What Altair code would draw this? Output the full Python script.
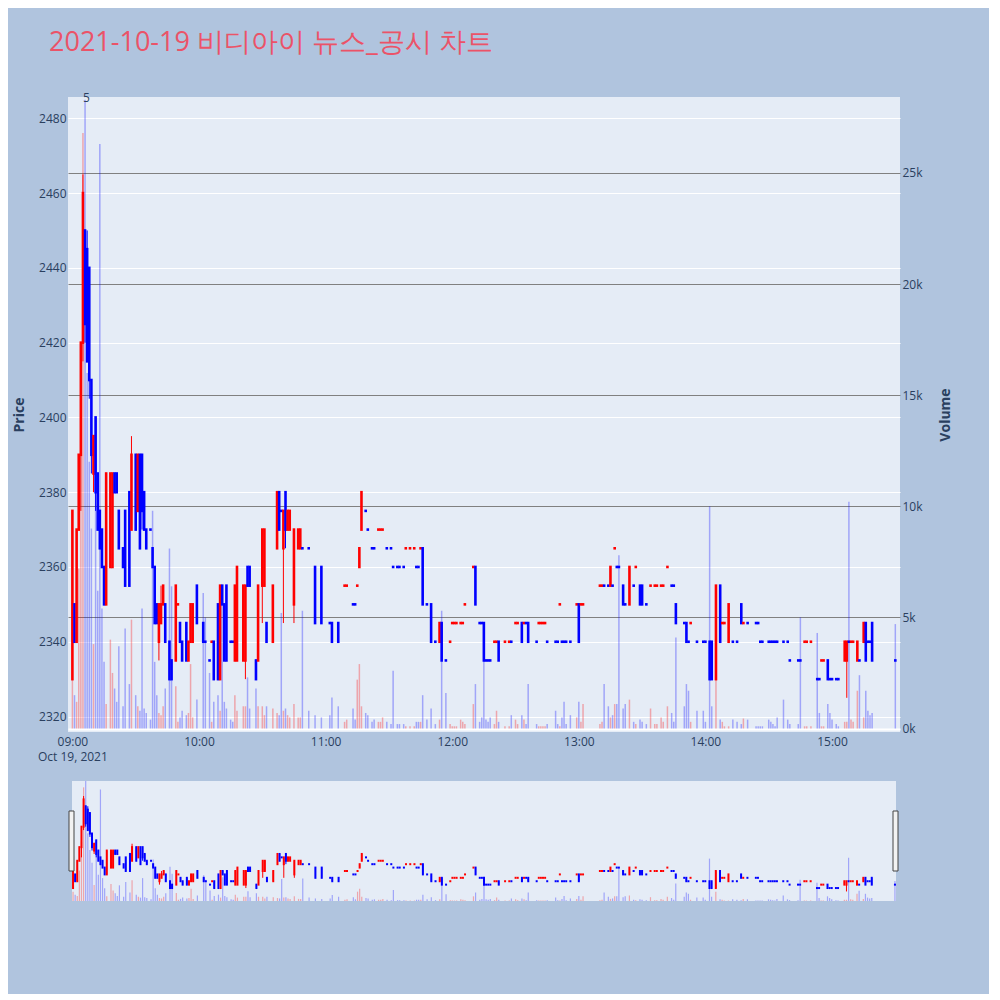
import altair as alt
import pandas as pd

TITLE = "2021-10-19 비디아이 뉴스_공시 차트"

# minutes after 09:00
MINUTE = [
    0, 1, 2, 3, 4, 5, 6, 7, 8, 9,
    10, 11, 12, 13, 14, 15, 16, 18, 19, 20,
    21, 22, 24, 25, 27, 28, 30, 31, 32, 33,
    34, 35, 37, 38, 39, 40, 41, 42, 43, 44,
    46, 47, 49, 50, 51, 52, 54, 55, 56, 57,
    59, 62, 63, 65, 66, 67, 69, 70, 71, 72,
    73, 75, 76, 77, 78, 81, 82, 83, 84, 87,
    88, 90, 91, 92, 95, 97, 98, 99, 100, 101,
    102, 103, 105, 107, 108, 109, 112, 115, 118, 122,
    123, 126, 129, 130, 133, 134, 135, 136, 137, 139,
    140, 142, 143, 145, 146, 147, 149, 151, 152, 154,
    155, 157, 158, 160, 162, 163, 164, 165, 166, 168,
    170, 172, 174, 175, 177, 179, 180, 181, 182, 184,
    185, 186, 190, 191, 193, 194, 195, 196, 197, 198,
    200, 201, 202, 205, 207, 208, 210, 211, 213, 214,
    215, 216, 220, 221, 222, 223, 224, 225, 229, 230,
    231, 232, 233, 234, 236, 239, 240, 241, 242, 250,
    251, 252, 254, 255, 256, 257, 258, 259, 261, 262,
    264, 266, 267, 269, 270, 272, 274, 276, 277, 279,
    280, 282, 284, 285, 286, 290, 291, 292, 293, 296,
    299, 300, 302, 303, 305, 307, 308, 309, 311, 313,
    315, 317, 318, 320, 324, 325, 326, 327, 330, 331,
    332, 333, 334, 337, 339, 340, 344, 345, 347, 348,
    350, 353, 354, 355, 356, 358, 359, 360, 362, 363,
    366, 367, 368, 369, 370, 372, 373, 375, 376, 377,
    378, 379, 390,
]

OPEN = [
    2330, 2350, 2340, 2370, 2390, 2420, 2450, 2445, 2440, 2410,
    2385, 2400, 2385, 2375, 2370, 2360, 2350, 2360, 2360, 2385,
    2385, 2375, 2365, 2375, 2380, 2370, 2390, 2375, 2390, 2390,
    2380, 2370, 2370, 2365, 2360, 2350, 2340, 2345, 2350, 2350,
    2340, 2335, 2335, 2350, 2345, 2340, 2345, 2335, 2340, 2340,
    2355, 2345, 2340, 2335, 2340, 2340, 2350, 2330, 2355, 2350,
    2355, 2340, 2340, 2335, 2335, 2335, 2335, 2360, 2360, 2335,
    2335, 2355, 2355, 2345, 2340, 2365, 2380, 2375, 2365, 2380,
    2370, 2370, 2350, 2365, 2365, 2365, 2365, 2360, 2360, 2345,
    2345, 2345, 2355, 2355, 2350, 2350, 2355, 2360, 2370, 2375,
    2370, 2365, 2365, 2370, 2370, 2370, 2365, 2365, 2360, 2360,
    2360, 2360, 2365, 2365, 2365, 2360, 2360, 2365, 2365, 2350,
    2350, 2340, 2340, 2345, 2335, 2340, 2345, 2345, 2345, 2345,
    2345, 2350, 2360, 2360, 2345, 2345, 2345, 2335, 2335, 2335,
    2340, 2340, 2340, 2340, 2340, 2340, 2345, 2345, 2345, 2345,
    2345, 2345, 2340, 2345, 2345, 2345, 2345, 2340, 2340, 2340,
    2350, 2340, 2340, 2340, 2340, 2350, 2350, 2350, 2350, 2355,
    2355, 2355, 2355, 2355, 2355, 2365, 2360, 2360, 2355, 2350,
    2350, 2355, 2360, 2355, 2355, 2350, 2355, 2355, 2355, 2355,
    2355, 2360, 2355, 2355, 2350, 2345, 2345, 2340, 2345, 2340,
    2340, 2340, 2340, 2340, 2330, 2355, 2345, 2345, 2340, 2340,
    2340, 2350, 2345, 2345, 2345, 2345, 2340, 2340, 2340, 2340,
    2340, 2340, 2340, 2340, 2340, 2335, 2335, 2335, 2340, 2340,
    2340, 2330, 2330, 2335, 2335, 2335, 2330, 2330, 2330, 2330,
    2335, 2335, 2340, 2340, 2340, 2335, 2335, 2340, 2345, 2340,
    2340, 2345, 2335,
]

HIGH = [
    2375, 2350, 2370, 2390, 2420, 2465, 2450, 2450, 2440, 2410,
    2395, 2400, 2385, 2375, 2370, 2360, 2385, 2385, 2385, 2385,
    2385, 2375, 2365, 2375, 2380, 2395, 2390, 2390, 2390, 2390,
    2380, 2370, 2370, 2365, 2360, 2350, 2350, 2355, 2355, 2350,
    2340, 2335, 2355, 2350, 2345, 2340, 2345, 2340, 2350, 2350,
    2355, 2345, 2340, 2335, 2340, 2340, 2350, 2355, 2355, 2350,
    2355, 2340, 2340, 2355, 2360, 2355, 2355, 2360, 2360, 2335,
    2355, 2370, 2370, 2345, 2355, 2380, 2380, 2375, 2375, 2380,
    2375, 2375, 2370, 2370, 2370, 2365, 2365, 2360, 2360, 2345,
    2345, 2345, 2355, 2355, 2350, 2350, 2355, 2365, 2380, 2375,
    2370, 2365, 2365, 2370, 2370, 2370, 2365, 2365, 2360, 2360,
    2360, 2360, 2365, 2365, 2365, 2360, 2360, 2365, 2365, 2350,
    2350, 2340, 2345, 2345, 2335, 2340, 2345, 2345, 2345, 2345,
    2345, 2350, 2360, 2360, 2345, 2345, 2345, 2335, 2335, 2335,
    2340, 2340, 2340, 2340, 2340, 2340, 2345, 2345, 2345, 2345,
    2345, 2345, 2340, 2345, 2345, 2345, 2345, 2340, 2340, 2340,
    2350, 2340, 2340, 2340, 2340, 2350, 2350, 2350, 2350, 2355,
    2355, 2355, 2355, 2360, 2355, 2365, 2360, 2360, 2355, 2350,
    2360, 2355, 2360, 2355, 2355, 2350, 2355, 2355, 2355, 2355,
    2355, 2360, 2355, 2355, 2350, 2345, 2345, 2340, 2345, 2340,
    2340, 2340, 2340, 2340, 2355, 2355, 2345, 2345, 2350, 2340,
    2340, 2350, 2345, 2345, 2345, 2345, 2340, 2340, 2340, 2340,
    2340, 2340, 2340, 2340, 2340, 2335, 2335, 2335, 2340, 2340,
    2340, 2330, 2330, 2335, 2335, 2335, 2330, 2330, 2330, 2330,
    2340, 2340, 2340, 2340, 2340, 2340, 2335, 2345, 2345, 2340,
    2340, 2345, 2335,
]

LOW = [
    2330, 2340, 2340, 2370, 2375, 2415, 2420, 2415, 2405, 2385,
    2380, 2375, 2370, 2365, 2360, 2350, 2350, 2360, 2360, 2380,
    2380, 2365, 2360, 2355, 2355, 2370, 2370, 2375, 2365, 2370,
    2370, 2365, 2370, 2360, 2345, 2345, 2335, 2345, 2350, 2340,
    2330, 2330, 2335, 2350, 2340, 2335, 2335, 2335, 2340, 2340,
    2345, 2340, 2340, 2335, 2340, 2330, 2330, 2330, 2350, 2335,
    2335, 2340, 2340, 2335, 2335, 2335, 2330, 2355, 2355, 2330,
    2335, 2345, 2355, 2340, 2340, 2365, 2370, 2375, 2345, 2365,
    2370, 2370, 2345, 2365, 2365, 2365, 2365, 2345, 2345, 2345,
    2340, 2340, 2355, 2355, 2350, 2350, 2355, 2360, 2370, 2375,
    2370, 2365, 2365, 2370, 2370, 2370, 2365, 2365, 2360, 2360,
    2360, 2360, 2365, 2365, 2365, 2360, 2360, 2365, 2350, 2350,
    2340, 2340, 2340, 2335, 2335, 2340, 2345, 2345, 2345, 2345,
    2345, 2350, 2360, 2350, 2345, 2345, 2335, 2335, 2335, 2335,
    2340, 2340, 2335, 2340, 2340, 2340, 2345, 2345, 2340, 2345,
    2345, 2340, 2340, 2345, 2345, 2345, 2345, 2340, 2340, 2340,
    2350, 2340, 2340, 2340, 2340, 2350, 2340, 2350, 2350, 2355,
    2355, 2355, 2355, 2355, 2355, 2365, 2360, 2360, 2350, 2350,
    2350, 2355, 2360, 2350, 2350, 2350, 2355, 2355, 2355, 2355,
    2355, 2360, 2355, 2355, 2345, 2345, 2340, 2340, 2345, 2340,
    2340, 2340, 2330, 2330, 2330, 2340, 2345, 2345, 2340, 2340,
    2340, 2345, 2345, 2345, 2345, 2345, 2340, 2340, 2340, 2340,
    2340, 2340, 2340, 2340, 2340, 2335, 2335, 2335, 2340, 2340,
    2340, 2330, 2330, 2335, 2335, 2330, 2330, 2330, 2330, 2330,
    2335, 2325, 2340, 2340, 2340, 2335, 2335, 2340, 2335, 2340,
    2340, 2335, 2335,
]

CLOSE = [
    2375, 2340, 2370, 2390, 2420, 2460, 2425, 2415, 2410, 2390,
    2395, 2380, 2370, 2365, 2360, 2350, 2385, 2385, 2385, 2380,
    2380, 2365, 2360, 2355, 2355, 2390, 2370, 2390, 2365, 2375,
    2370, 2365, 2370, 2360, 2345, 2345, 2350, 2350, 2355, 2340,
    2330, 2330, 2355, 2350, 2340, 2335, 2335, 2340, 2350, 2350,
    2345, 2340, 2340, 2335, 2340, 2330, 2330, 2355, 2350, 2335,
    2335, 2340, 2340, 2355, 2360, 2355, 2355, 2355, 2355, 2330,
    2355, 2370, 2370, 2340, 2355, 2380, 2370, 2375, 2375, 2370,
    2375, 2375, 2370, 2370, 2370, 2365, 2365, 2345, 2345, 2345,
    2340, 2340, 2355, 2355, 2350, 2350, 2355, 2365, 2380, 2375,
    2370, 2365, 2365, 2370, 2370, 2370, 2365, 2365, 2360, 2360,
    2360, 2360, 2365, 2365, 2365, 2360, 2360, 2365, 2350, 2350,
    2340, 2340, 2345, 2335, 2335, 2340, 2345, 2345, 2345, 2345,
    2345, 2350, 2360, 2350, 2345, 2345, 2335, 2335, 2335, 2335,
    2340, 2340, 2335, 2340, 2340, 2340, 2345, 2345, 2340, 2345,
    2345, 2340, 2340, 2345, 2345, 2345, 2345, 2340, 2340, 2340,
    2350, 2340, 2340, 2340, 2340, 2350, 2340, 2350, 2350, 2355,
    2355, 2355, 2355, 2360, 2355, 2365, 2360, 2360, 2350, 2350,
    2360, 2355, 2360, 2350, 2350, 2350, 2355, 2355, 2355, 2355,
    2355, 2360, 2355, 2355, 2345, 2345, 2340, 2340, 2345, 2340,
    2340, 2340, 2330, 2330, 2355, 2340, 2345, 2345, 2350, 2340,
    2340, 2345, 2345, 2345, 2345, 2345, 2340, 2340, 2340, 2340,
    2340, 2340, 2340, 2340, 2340, 2335, 2335, 2335, 2340, 2340,
    2340, 2330, 2330, 2335, 2335, 2330, 2330, 2330, 2330, 2330,
    2340, 2340, 2340, 2340, 2340, 2340, 2335, 2345, 2335, 2340,
    2340, 2335, 2335,
]

VOLUME = [
    2200, 1500, 1200, 7200, 14000, 26800, 28300, 16000, 12000, 9000,
    3800, 14000, 6200, 26300, 5400, 3000, 1100, 4000, 2500, 1800,
    1200, 3700, 1000, 4500, 2000, 4900, 1500, 1000, 800, 5400,
    900, 700, 400, 9800, 3000, 1500, 700, 600, 1000, 1800,
    8100, 6400, 1900, 300, 500, 800, 600, 700, 2900, 500,
    1300, 6100, 5000, 2500, 300, 1200, 1500, 800, 5600, 1200,
    900, 400, 300, 1500, 800, 1000, 1000, 2300, 900, 1800,
    1000, 1000, 600, 1000, 900, 700, 600, 5200, 800, 900,
    600, 500, 1100, 500, 500, 5300, 800, 600, 500, 600,
    1400, 1000, 300, 400, 900, 400, 2200, 2900, 1000, 700,
    600, 300, 400, 300, 300, 500, 300, 200, 2600, 200,
    200, 200, 100, 100, 100, 300, 300, 300, 1500, 400,
    900, 200, 400, 5300, 1600, 200, 100, 100, 100, 400,
    300, 200, 1100, 2000, 300, 500, 4700, 400, 300, 500,
    200, 800, 300, 100, 100, 600, 400, 200, 600, 400,
    200, 2000, 200, 100, 100, 100, 100, 200, 800, 200,
    100, 500, 1200, 200, 600, 500, 1200, 300, 1100, 200,
    300, 2000, 1000, 500, 600, 1100, 1100, 7800, 900, 1100,
    1300, 300, 200, 400, 300, 200, 900, 200, 200, 500,
    300, 1000, 700, 300, 4100, 1000, 2000, 1700, 300, 800,
    800, 300, 10000, 1000, 2200, 400, 300, 100, 100, 400,
    300, 200, 450, 400, 100, 100, 100, 100, 400, 300,
    200, 100, 500, 1300, 400, 200, 200, 5000, 100, 100,
    100, 4300, 700, 100, 100, 1100, 700, 400, 200, 100,
    300, 300, 10200, 400, 300, 1700, 2400, 500, 1700, 800,
    600, 700, 4700,
]

# 1 = rising (red), 0 = falling (blue)
UP = [
    1, 0, 1, 1, 1, 1, 0, 0, 0, 0,
    1, 0, 0, 0, 0, 0, 1, 1, 1, 0,
    0, 0, 0, 0, 0, 1, 0, 1, 0, 0,
    0, 0, 0, 0, 0, 0, 1, 1, 1, 0,
    0, 0, 1, 1, 0, 0, 0, 1, 1, 1,
    0, 0, 0, 0, 1, 0, 0, 1, 0, 0,
    0, 0, 0, 1, 1, 1, 1, 0, 0, 0,
    1, 1, 1, 0, 1, 1, 0, 0, 1, 0,
    1, 1, 1, 1, 1, 0, 0, 0, 0, 0,
    0, 0, 1, 1, 0, 0, 1, 1, 1, 0,
    0, 0, 0, 1, 1, 1, 0, 0, 0, 0,
    0, 0, 1, 1, 1, 0, 0, 1, 0, 0,
    0, 0, 1, 0, 0, 1, 1, 1, 1, 1,
    1, 1, 1, 0, 0, 0, 0, 0, 0, 0,
    1, 1, 0, 1, 1, 0, 1, 1, 0, 1,
    0, 0, 0, 1, 1, 1, 1, 0, 0, 0,
    1, 0, 0, 0, 0, 1, 0, 1, 1, 1,
    1, 0, 0, 1, 0, 1, 0, 0, 0, 0,
    1, 0, 1, 0, 0, 0, 1, 1, 1, 1,
    1, 1, 0, 0, 0, 0, 0, 0, 1, 0,
    0, 0, 0, 0, 1, 0, 1, 1, 1, 0,
    0, 0, 1, 0, 0, 0, 0, 0, 0, 0,
    0, 0, 0, 0, 0, 0, 0, 0, 1, 1,
    1, 0, 0, 1, 1, 0, 0, 0, 0, 0,
    1, 1, 0, 1, 1, 1, 0, 1, 0, 0,
    0, 0, 0,
]

NEWS_TIME = ["2021-10-19 09:06:36"]
NEWS_TEXT = ["5"]
HOUR_TICKS = [9, 10, 11, 12, 13, 14, 15]
PRICE_TICKS = [2320, 2340, 2360, 2380, 2400, 2420, 2440, 2460, 2480]
VOLUME_TICKS = [0, 5000, 10000, 15000, 20000, 25000]

n = len(MINUTE)
assert all(len(a) == n for a in (OPEN, HIGH, LOW, CLOSE, VOLUME, UP)), "length mismatch"

start = pd.Timestamp("2021-10-19 09:00:00")
df = pd.DataFrame({
    "t": start + pd.to_timedelta(MINUTE, unit="min"),
    "open": OPEN, "high": HIGH, "low": LOW, "close": CLOSE,
    "volume": VOLUME,
    "dir": ["up" if u else "down" for u in UP],
})
news = pd.DataFrame({"t": pd.to_datetime(NEWS_TIME), "label": NEWS_TEXT})

TXT = "#2a3f5f"
FONT = "Open Sans"


def dt(h, m, s=0):
    return alt.DateTime(year=2021, month=10, date=19, hours=h, minutes=m, seconds=s)


color = alt.Color("dir:N", scale=alt.Scale(domain=["up", "down"], range=["#FF0000", "#0000FF"]), legend=None)


def build(x_enc, price_scale, vol_scale, price_axis, vol_axis, body_w, vol_w, wick_w):
    base = alt.Chart(df).encode(x=x_enc, color=color)
    wick = base.mark_rule(strokeWidth=wick_w).encode(
        y=alt.Y("low:Q", scale=price_scale, axis=price_axis),
        y2="high:Q",
    )
    body = base.mark_rule(strokeWidth=body_w, strokeCap="square").encode(
        y=alt.Y("open:Q", scale=price_scale, axis=price_axis),
        y2="close:Q",
    )
    vol = base.mark_rule(strokeWidth=vol_w, opacity=0.3).encode(
        y=alt.Y("volume:Q", scale=vol_scale, axis=vol_axis),
        y2=alt.datum(0),
    )
    return alt.layer(wick, body), vol


# ---- main panel ----
x_main = alt.X(
    "t:T",
    scale=alt.Scale(domain=[dt(8, 57, 55), dt(15, 32, 13)]),
    axis=alt.Axis(
        values=[dt(h, 0) for h in HOUR_TICKS],
        labelExpr="hours(datum.value) == 9 ? ['09:00', 'Oct 19, 2021'] : timeFormat(datum.value, '%H:%M')",
        grid=False, domain=False, ticks=False, labelPadding=4, labelFlush=False,
        labelLineHeight=15, labelFontSize=12, labelColor=TXT, labelFont=FONT, title=None,
    ),
)
price_axis = alt.Axis(
    values=PRICE_TICKS, format="d", grid=True, gridColor="white", gridWidth=1, domain=False, ticks=False,
    labelPadding=2, labelFontSize=12, labelColor=TXT, labelFont=FONT,
    title="Price", titleFontSize=14, titleFontWeight="bold", titleColor=TXT, titleFont=FONT,
    titlePadding=12,
)
vol_axis = alt.Axis(
    orient="right", values=VOLUME_TICKS, format="~s", grid=True,
    gridColor={"condition": {"test": "datum.value === 0", "value": "white"}, "value": "#808080"},
    gridWidth={"condition": {"test": "datum.value === 0", "value": 2}, "value": 1},
    domain=False, ticks=False, labelPadding=2, labelFontSize=12, labelColor=TXT, labelFont=FONT,
    title="Volume", titleFontSize=14, titleFontWeight="bold", titleColor=TXT, titleFont=FONT,
    titleAngle=270, titlePadding=30,
)
price_m, vol_m = build(
    x_main,
    alt.Scale(domain=[2315.86, 2485.7], nice=False, zero=False),
    alt.Scale(domain=[-157, 28420], nice=False, zero=False),
    price_axis, vol_axis, 2.6, 1.5, 1,
)
ann = alt.Chart(news).mark_text(fontSize=12, color=TXT, font=FONT, baseline="middle").encode(
    x=alt.X("t:T"), y=alt.value(1), text="label:N"
)
main = alt.layer(price_m, vol_m, ann).resolve_scale(y="independent").properties(width=832, height=635)

# ---- range slider panel ----
x_sl = alt.X("t:T", scale=alt.Scale(domain=[dt(8, 59, 30), dt(15, 30, 30)]), axis=None)
price_s, vol_s = build(
    x_sl,
    alt.Scale(domain=[2311, 2487], nice=False, zero=False),
    alt.Scale(domain=[0, 28300], nice=False, zero=False),
    None, None, 2.0, 1.2, 1,
)
handles = pd.DataFrame({"t": pd.to_datetime(["2021-10-19 08:59:30", "2021-10-19 15:30:30"])})
handle = alt.Chart(handles).mark_rect(fill="#f2f2f2", stroke="#444", strokeWidth=1, xOffset=-3, x2Offset=2).encode(
    x=alt.X("t:T", scale=alt.Scale(domain=[dt(8, 59, 30), dt(15, 30, 30)]), axis=None),
    x2="t:T",
    y=alt.value(30), y2=alt.value(90),
)
slider = alt.layer(price_s, vol_s, handle).resolve_scale(y="independent").properties(width=824, height=120)

chart = alt.vconcat(main, slider, spacing=49, bounds="flush", center=True).properties(
    title=alt.TitleParams(
        TITLE, anchor="start", frame="group", fontSize=27, font=FONT, fontWeight="normal",
        color="#EB5368", dx=-19, offset=35,
    ),
    padding={"left": 4, "top": 21, "right": 36, "bottom": 92},
    background="#B0C4DE",
).configure_view(fill="#E5ECF6", strokeWidth=0)

chart.save("out.html", embed_options={"renderer": "svg", "actions": False})
